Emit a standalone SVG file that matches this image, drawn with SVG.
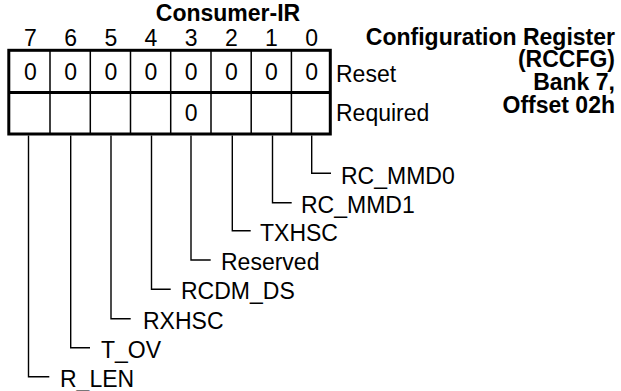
<svg xmlns="http://www.w3.org/2000/svg" width="621" height="391" viewBox="0 0 621 391">
<style>
text{font-family:"Liberation Sans",Arial,sans-serif;font-size:23px;fill:#000}
.b{font-weight:bold}
.c{text-anchor:middle}
.r{text-anchor:end}
.thick{fill:none;stroke:#000;stroke-width:3}
.thin{fill:none;stroke:#000;stroke-width:1.5}
.lead{fill:none;stroke:#000;stroke-width:1.4}
</style>
<rect width="621" height="391" fill="#fff"/>
<g id="title">
<text class="b c" x="228" y="21">Consumer-IR</text>
<text class="b r" x="615" y="45">Configuration Register</text>
<text class="b r" x="615" y="67">(RCCFG)</text>
<text class="b r" x="615" y="90">Bank 7,</text>
<text class="b r" x="615" y="113">Offset 02h</text>
</g>
<g id="bitnumbers">
<text class="c" x="30.5" y="46">7</text>
<text class="c" x="70.7" y="46">6</text>
<text class="c" x="110.8" y="46">5</text>
<text class="c" x="151" y="46">4</text>
<text class="c" x="191.2" y="46">3</text>
<text class="c" x="231.3" y="46">2</text>
<text class="c" x="271.5" y="46">1</text>
<text class="c" x="311.6" y="46">0</text>
</g>
<g id="register">
<g class="thin">
<line x1="50" y1="50" x2="50" y2="134"/>
<line x1="90.3" y1="50" x2="90.3" y2="134"/>
<line x1="130.5" y1="50" x2="130.5" y2="134"/>
<line x1="170.7" y1="50" x2="170.7" y2="134"/>
<line x1="211" y1="50" x2="211" y2="134"/>
<line x1="251.2" y1="50" x2="251.2" y2="134"/>
<line x1="291.4" y1="50" x2="291.4" y2="134"/>
</g>
<rect class="thick" x="8.8" y="50.3" width="321.5" height="83.7"/>
<line class="thick" x1="8.8" y1="92.5" x2="330.3" y2="92.5"/>
<g id="reset-row">
<text class="c" x="30.5" y="80">0</text>
<text class="c" x="70.7" y="80">0</text>
<text class="c" x="110.8" y="80">0</text>
<text class="c" x="151" y="80">0</text>
<text class="c" x="191.2" y="80">0</text>
<text class="c" x="231.3" y="80">0</text>
<text class="c" x="271.5" y="80">0</text>
<text class="c" x="311.6" y="80">0</text>
</g>
<g id="required-row">
<text class="c" x="191.2" y="121">0</text>
</g>
</g>
<g id="rowlabels">
<text x="336" y="82">Reset</text>
<text x="336" y="121">Required</text>
</g>
<g id="connectors" class="lead">
<polyline points="311.7,135.5 311.7,173.3 331,173.3"/>
<polyline points="272.5,135.5 272.5,202.7 291.7,202.7"/>
<polyline points="232.3,135.5 232.3,230.7 250.7,230.7"/>
<polyline points="191,135.5 191,260 210.7,260"/>
<polyline points="151.5,135.5 151.5,289.3 170.7,289.3"/>
<polyline points="111,135.5 111,318.7 130.7,318.7"/>
<polyline points="70.7,135.5 70.7,347.7 90,347.7"/>
<polyline points="28.5,135.5 28.5,376.7 49.3,376.7"/>
</g>
<g id="fieldnames">
<text x="341" y="183.5">RC_MMD0</text>
<text x="301" y="212.7">RC_MMD1</text>
<text x="260" y="240.7">TXHSC</text>
<text x="221" y="270">Reserved</text>
<text x="181" y="299.3">RCDM_DS</text>
<text x="143" y="328.7">RXHSC</text>
<text x="101" y="357.7">T_OV</text>
<text x="60" y="386.7">R_LEN</text>
</g>
</svg>
